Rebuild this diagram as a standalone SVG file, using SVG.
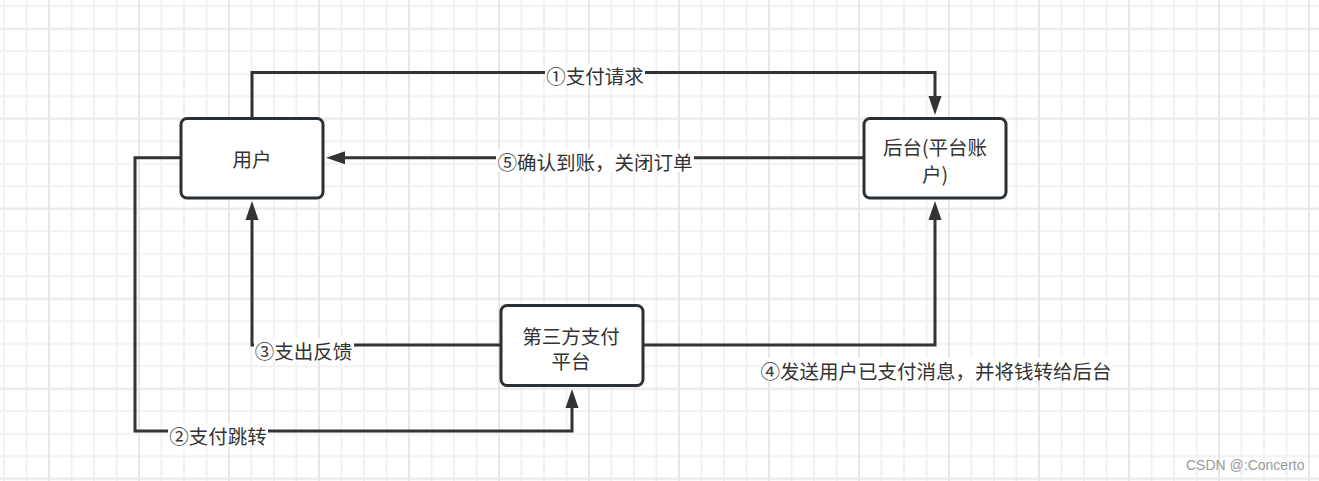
<svg xmlns="http://www.w3.org/2000/svg" width="1319" height="481" viewBox="0 0 1319 481">
<style>
.box{fill:#fff;stroke:#2b3035;stroke-width:3}
.edge{fill:none;stroke:#333;stroke-width:3}
.t{font-family:"Microsoft YaHei","Noto Sans CJK SC","Noto Sans",sans-serif;font-size:19.5px;fill:#333;text-anchor:middle;dominant-baseline:central}
.bg{fill:#fff}
</style>
<defs>
<pattern id="grid" x="4" y="6.3" width="90" height="90" patternUnits="userSpaceOnUse">
<rect x="0" y="0" width="90" height="90" fill="#fff"/>
<g fill="#f2f2f2">
<rect x="-1" y="0" width="2" height="90"/>
<rect x="21.5" y="0" width="2" height="90"/>
<rect x="66.5" y="0" width="2" height="90"/>
<rect x="0" y="-1" width="90" height="2"/>
<rect x="0" y="44" width="90" height="2"/>
<rect x="0" y="66.5" width="90" height="2"/>
<rect x="0" y="89" width="90" height="2"/>
<rect x="89" y="0" width="2" height="90"/>
</g>
<g fill="#e7e7e7">
<rect x="44" y="0" width="2" height="90"/>
<rect x="0" y="21.5" width="90" height="2"/>
</g>
</pattern>
<marker id="arr" markerUnits="userSpaceOnUse" markerWidth="20" markerHeight="14" refX="0" refY="6.5" orient="auto" overflow="visible">
<path d="M0,0 L19,6.5 L0,13 z" fill="#333"/>
</marker>
</defs>
<rect width="1319" height="481" fill="url(#grid)"/>
<g id="connectors">
<path class="edge" d="M252,117 V72.5 H935 V96" marker-end="url(#arr)"/>
<path class="edge" d="M863,157.7 H345" marker-end="url(#arr)"/>
<path class="edge" d="M180,157.7 H135 V431 H572 V408" marker-end="url(#arr)"/>
<path class="edge" d="M500,345 H252 V220" marker-end="url(#arr)"/>
<path class="edge" d="M644,345 H935 V220" marker-end="url(#arr)"/>
<g id="edge-labels">
<rect class="bg" x="545" y="64" width="100" height="23"/>
<text class="t" x="595" y="75.7">①支付请求</text>
<rect class="bg" x="496" y="149" width="198" height="23"/>
<text class="t" x="595" y="161">⑤确认到账，关闭订单</text>
<rect class="bg" x="168" y="423" width="100" height="23"/>
<text class="t" x="218" y="435">②支付跳转</text>
<rect class="bg" x="254" y="338" width="100" height="23"/>
<text class="t" x="303.5" y="350">③支出反馈</text>
<rect class="bg" x="759" y="358" width="354" height="23"/>
<text class="t" x="936" y="370">④发送用户已支付消息，并将钱转给后台</text>
</g>
</g>
<g id="node-user">
<rect class="box" x="181" y="118.5" width="142" height="79.5" rx="6"/>
<text class="t" x="252" y="158">用户</text>
</g>
<g id="node-backend">
<rect class="box" x="864" y="118.5" width="142" height="79.5" rx="6"/>
<text class="t" x="935" y="146.7">后台(平台账<tspan x="935" dy="26">户)</tspan></text>
</g>
<g id="node-thirdparty">
<rect class="box" x="501" y="305.5" width="142" height="80" rx="6"/>
<text class="t" x="571" y="335">第三方支付<tspan x="571" dy="25">平台</tspan></text>
</g>
<text x="1186" y="470" font-family="'Liberation Sans',Arial,sans-serif" font-size="14" fill="#9a9a9a">CSDN @:Concerto</text>
</svg>
